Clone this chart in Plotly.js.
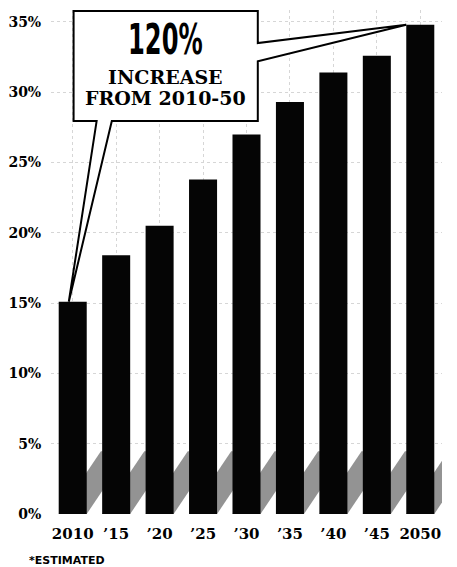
<!DOCTYPE html>
<html><head><meta charset="utf-8">
<script src="https://cdn.plot.ly/plotly-3.0.1.min.js"></script>
<style>html,body{margin:0;padding:0;background:#fff}#chart{width:457px;height:567px}</style>
</head><body><div id="chart"></div>
<script>
const years = ['2010', '\u201915', '\u201920', '\u201925', '\u201930', '\u201935', '\u201940', '\u201945', '2050'];
const shares = [15.1, 18.4, 20.5, 23.8, 27.0, 29.3, 31.4, 32.6, 34.8];
const yTickVals = [0, 5, 10, 15, 20, 25, 30, 35];
const yTickText = ['0%', '5%', '10%', '15%', '20%', '25%', '30%', '35%'];
const calloutBig = '120%';
const calloutLine1 = 'INCREASE';
const calloutLine2 = 'FROM 2010-50';
const footnote = '*ESTIMATED';

const idx = years.map((_, i) => i);
const barW = 0.645;
const last = shares.length - 1;

// diagonal shadow stripes behind each bar
const slope = 4.6, shA = 0.97, shH = slope * shA;
const shapes = idx.map(i => ({
  type: 'path', xref: 'x', yref: 'y', layer: 'below',
  path: `M ${i - barW/2} 0 L ${i + barW/2} 0 L ${i + barW/2 + shA} ${shH} L ${i - barW/2 + shA} ${shH} Z`,
  fillcolor: '#939393', line: {width: 0}
}));

// speech-bubble callout pointing to first and last bars
const bx0 = 0.02, bx1 = 4.26, by0 = 27.95, by1 = 35.78;
const p = [
  [bx0, by1], [bx1, by1], [bx1, 33.5],
  [last - barW/2, shares[last]],
  [bx1, 32.2], [bx1, by0], [0.9, by0],
  [-0.09, shares[0]],
  [0.55, by0], [bx0, by0]
];
shapes.push({
  type: 'path', xref: 'x', yref: 'y', layer: 'above',
  path: 'M ' + p.map(q => q[0] + ' ' + q[1]).join(' L ') + ' Z',
  fillcolor: '#ffffff', line: {color: '#000', width: 2}
});

const data = [{
  type: 'bar', x: idx, y: shares, width: barW,
  marker: {color: '#050505', line: {width: 0}},
  hoverinfo: 'skip'
}];

const layout = {
  width: 457, height: 567,
  margin: {l: 51, r: 15, t: 10, b: 53},
  paper_bgcolor: '#fff', plot_bgcolor: '#fff',
  showlegend: false,
  xaxis: {
    range: [-0.5, 8.5], tickvals: idx, ticktext: years,
    showgrid: true, gridcolor: '#d6d6d6', griddash: 'dot', gridwidth: 1,
    zeroline: false, showline: false,
    ticks: 'outside', ticklen: 6, tickcolor: 'rgba(0,0,0,0)',
    tickfont: {family: 'DejaVu Serif', size: 15, color: '#000', weight: 'bold'}
  },
  yaxis: {
    range: [0, 35.85], tickvals: yTickVals, ticktext: yTickText,
    showgrid: true, gridcolor: '#d6d6d6', griddash: 'dot', gridwidth: 1,
    zeroline: false, showline: false,
    ticks: 'outside', ticklen: 6, tickcolor: 'rgba(0,0,0,0)',
    tickfont: {family: 'DejaVu Serif', size: 14, color: '#000', weight: 'bold'}
  },
  shapes: shapes,
  annotations: [
    {xref: 'x', yref: 'y', x: 2.14, y: 33.75, text: calloutBig, showarrow: false,
     font: {family: 'DejaVu Sans Condensed, DejaVu Sans, sans-serif', size: 42, color: '#000', weight: 'bold'},
     xanchor: 'center', yanchor: 'middle', name: 'big'},
    {xref: 'x', yref: 'y', x: 2.14, y: 31.1, text: calloutLine1, showarrow: false,
     font: {family: 'DejaVu Serif', size: 19, color: '#000', weight: 'bold'},
     xanchor: 'center', yanchor: 'middle'},
    {xref: 'x', yref: 'y', x: 2.14, y: 29.6, text: calloutLine2, showarrow: false,
     font: {family: 'DejaVu Serif', size: 19, color: '#000', weight: 'bold'},
     xanchor: 'center', yanchor: 'middle'},
    {xref: 'paper', yref: 'paper', x: -0.062, y: -0.075, text: footnote, showarrow: false,
     font: {family: 'DejaVu Sans', size: 11, color: '#000', weight: 'bold'},
     xanchor: 'left', yanchor: 'top'}
  ]
};

Plotly.newPlot('chart', data, layout, {displayModeBar: false, staticPlot: true}).then(gd => {
  // condense the big headline number horizontally
  const el = gd.querySelectorAll('.annotation-text')[0];
  if (el) {
    const bb = el.getBBox();
    const cx = bb.x + bb.width / 2;
    const sx = 0.64;
    const t = el.getAttribute('transform') || '';
    el.setAttribute('transform', `${t} translate(${cx} 0) scale(${sx} 1) translate(${-cx} 0)`);
  }
});
</script>
</body></html>
